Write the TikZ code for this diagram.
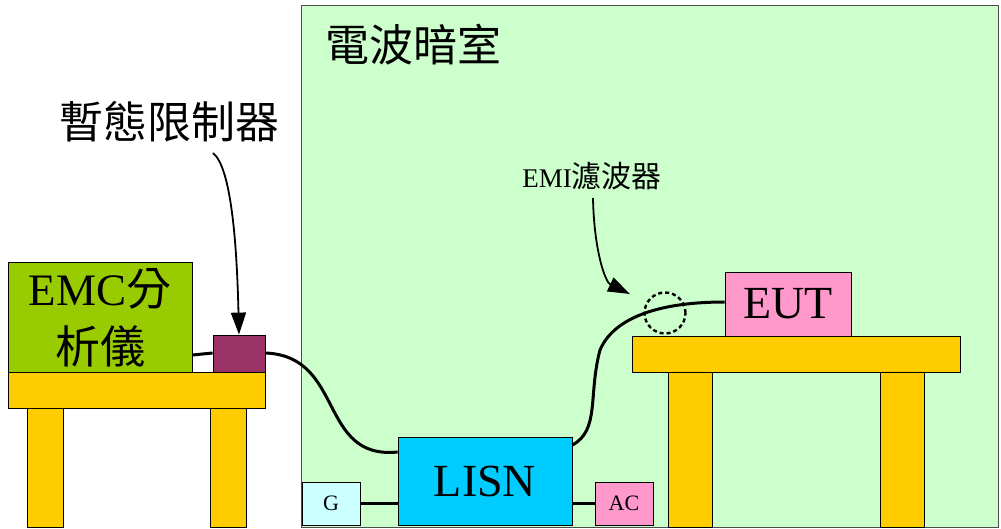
\documentclass[tikz,border=0pt]{standalone}
\usepackage{fontspec}
\setmainfont{Liberation Serif}
\newfontfamily\cjk{Noto Sans CJK TC}
\usetikzlibrary{arrows.meta}
\definecolor{roomcol}{HTML}{CCFFCC}
\definecolor{emccol}{HTML}{99CC00}
\definecolor{limcol}{HTML}{993366}
\definecolor{tablecol}{HTML}{FFCC00}
\definecolor{lisncol}{HTML}{00CCFF}
\definecolor{gencol}{HTML}{CCFFFF}
\definecolor{pinkcol}{HTML}{FF99CC}
\begin{document}
\begin{tikzpicture}[
  x=1pt, y=-1pt,
  box/.style={draw, line width=0.8pt, inner sep=0pt},
  wood/.style={draw, line width=0.8pt, fill=tablecol},
  cable/.style={line width=3pt},
  pointer/.style={line width=1.8pt, -{Triangle[length=22pt,width=15pt]}},
  big/.style={font=\fontsize{46}{46}\selectfont},
  small/.style={font=\fontsize{22}{22}\selectfont}
]
  \useasboundingbox (0,0) rectangle (1001,529);
  \node[box,fill=roomcol,draw=black!70,minimum width=697pt,minimum height=522pt] (room) at (649.5,266) {};
  \node[font=\cjk\fontsize{44}{44}\selectfont] (title) at (413,45) {電波暗室};

  % tables
  \draw[wood] (8,372) rectangle (265,408);
  \draw[wood] (27,408) rectangle (63,527);
  \draw[wood] (210,408) rectangle (246,527);
  \draw[wood] (632,336) rectangle (960,372);
  \draw[wood] (668,372) rectangle (712,527);
  \draw[wood] (880,372) rectangle (924,527);

  % instruments
  \node[box,fill=emccol,minimum width=184pt,minimum height=110pt] (emc) at (100,317) {};
  \node[align=center,font=\fontsize{45}{58}\selectfont] (emctext) at (100,318) {EMC{\cjk 分}\\{\cjk 析儀}};
  \node[box,fill=limcol,minimum width=52pt,minimum height=37pt] (lim) at (239,353.5) {};
  \node[box,fill=lisncol,minimum width=174pt,minimum height=88pt,big] (lisn) at (485,481) {LISN};
  \node[box,fill=gencol,minimum width=58pt,minimum height=43pt,small] (gen) at (331,503.5) {G};
  \node[box,fill=pinkcol,minimum width=58pt,minimum height=43pt,small] (ac) at (624,503.5) {AC};
  \node[box,fill=pinkcol,minimum width=126pt,minimum height=64pt,big] (eut) at (788,304) {EUT};

  % cables
  \draw[cable] (emc.east |- 0,355) -- (lim.west |- 0,353);
  \draw[cable] (lim.east |- 0,353) .. controls (345,356) and (318,460) .. (lisn.west |- 0,452);
  \draw[cable] (gen.east) -- (lisn.west |- gen.east);
  \draw[cable] (lisn.east |- ac.west) -- (ac.west);
  \draw[cable] (lisn.east |- 0,445) .. controls (600,430) and (588,395) .. (600,350)
    .. controls (615,315) and (665,302) .. (eut.west |- 0,302);
  \node[circle,draw,dash pattern=on 4pt off 3pt,line width=2.4pt,minimum size=41pt,inner sep=0pt] (filter) at (665,313) {};

  % labels
  \node[font=\cjk\fontsize{44}{44}\selectfont] (limlabel) at (169,122) {暫態限制器};
  \node[font=\fontsize{27}{27}\selectfont] (filterlabel) at (592,176) {EMI{\cjk\fontsize{30}{30}\selectfont 濾波器}};
  \draw[pointer] (213,153) .. controls (232,168) and (237,250) .. (lim.north);
  \draw[pointer] (593,198) .. controls (594,250) and (605,282) .. (630,294);
\end{tikzpicture}
\end{document}
